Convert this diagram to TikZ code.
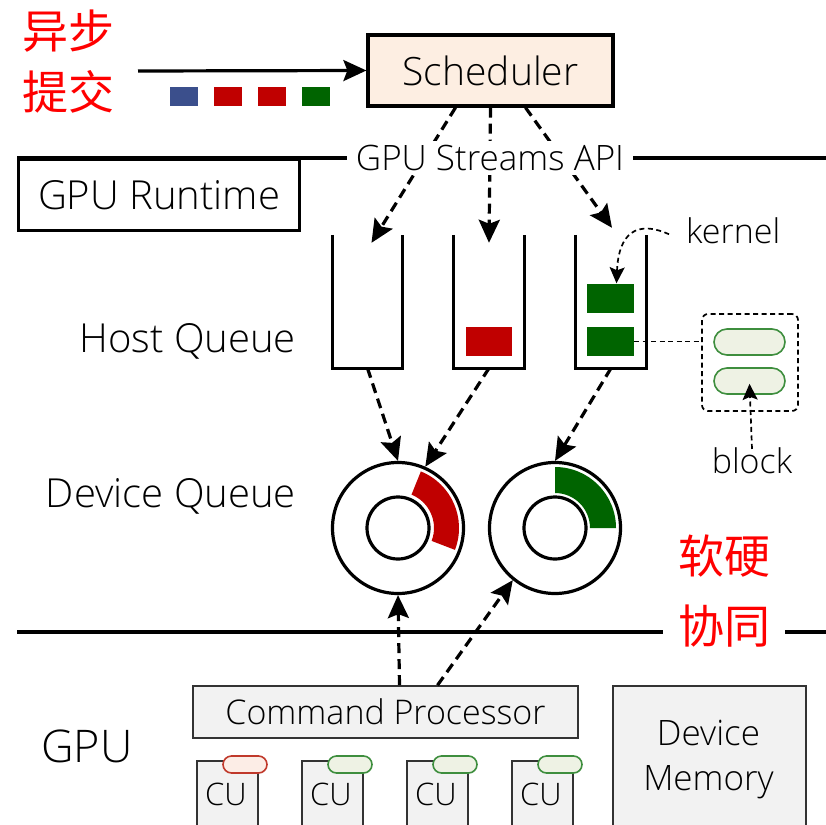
\documentclass[tikz,border=0pt]{standalone}
\usepackage{fontspec}
\setmainfont{Open Sans}[UprightFont={* Light}]
\newfontfamily\cjk{Noto Sans CJK SC}
\usetikzlibrary{arrows.meta}
\definecolor{qred}{HTML}{C00000}
\definecolor{qgreen}{HTML}{006400}
\definecolor{qblue}{HTML}{3B4F8C}
\definecolor{peach}{HTML}{FDEEE2}
\definecolor{boxgray}{HTML}{F2F2F2}
\definecolor{edgegray}{HTML}{333333}
\definecolor{pillgreen}{HTML}{EEF2E4}
\definecolor{pillgreenline}{HTML}{3E8E3E}
\definecolor{pillred}{HTML}{FCEDE6}
\definecolor{pillredline}{HTML}{C0392B}
\newcommand\fsz[1]{\fontsize{#1}{#1}\selectfont}
\begin{document}
\begin{tikzpicture}[x=1pt,y=-1pt,
  heavy/.style={line width=3.2},
  bigtip/.style={-{Stealth[length=23pt,width=21pt,inset=4pt]}},
  darrow/.style={heavy,dash pattern=on 10pt off 6pt,bigtip},
  thindash/.style={line width=1.7,dash pattern=on 5pt off 3.5pt},
  thinarrow/.style={thindash,-{Stealth[length=16pt,width=15pt,inset=3pt]}},
  label/.style={inner sep=0pt,text=black},
  redtxt/.style={inner sep=0pt,text=red,font=\cjk\fsz{46}},
  task/.style={minimum width=28,minimum height=19,inner sep=0pt},
  kern/.style={fill=qgreen,minimum width=47,minimum height=29,inner sep=0pt},
  graybox/.style={draw=edgegray,fill=boxgray,line width=1.6,inner sep=0pt},
  pill/.style={draw=pillgreenline,fill=pillgreen,line width=1.6,inner sep=0pt},
  queue/.style={minimum width=70,minimum height=133,inner sep=0pt},
  ring/.style={circle,draw,heavy,inner sep=0pt},
]
\useasboundingbox (0,0) rectangle (826,824);

% asynchronous submission
\node[redtxt,anchor=north west] (asyncA) at (22,10) {异步};
\node[redtxt,anchor=north west] (asyncB) at (22,70) {提交};

% scheduler
\node[draw,heavy,fill=peach,minimum width=245,minimum height=71,inner sep=0pt,
      font=\fsz{39}] (sched) at (490.5,70.5) {Scheduler};
\coordinate (feed) at (138,71);
\draw[heavy,bigtip] (feed) -- (sched.west);

\node[task,fill=qblue]  (t1) at (184,96.5) {};
\node[task,fill=qred]   (t2) at (227.5,96.5) {};
\node[task,fill=qred]   (t3) at (271.5,96.5) {};
\node[task,fill=qgreen] (t4) at (315.5,96.5) {};

% runtime layer
\coordinate (rtL) at (17,158);
\coordinate (rtR) at (826,158);
\draw[heavy] (rtL) -- (rtR);
\node[draw,heavy,fill=white,minimum width=281,minimum height=71,inner sep=0pt,
      font=\fsz{40},anchor=north west] (runtime) at (17,158) {GPU Runtime};

% host queues
\node[queue] (q1) at (367.5,301.5) {};
\node[queue] (q2) at (489,301.5) {};
\node[queue] (q3) at (611,301.5) {};
\foreach \q in {q1,q2,q3}
  \draw[heavy] (\q.north west) -- (\q.south west) -- (\q.south east) -- (\q.north east);

\node[fill=qred,minimum width=46,minimum height=29,inner sep=0pt] (r1) at (489,341.5) {};
\node[kern] (k1) at (610.5,298) {};
\node[kern] (k2) at (610.5,341.5) {};

% stream submissions
\draw[darrow] ([xshift=-35pt]sched.south) -- ([xshift=4pt,yshift=-8pt]q1.north);
\draw[darrow] (sched.south) -- ([yshift=-8pt]q2.north);
\draw[darrow] ([xshift=35pt]sched.south) -- ([xshift=1pt,yshift=7pt]q3.north);
\node[label,fill=white,inner xsep=9pt,inner ysep=4pt,font=\fsz{35}] (api) at (490,158) {GPU Streams API};

\node[label,anchor=base east,font=\fsz{40}] (hostq) at (296,352) {Host Queue};

% kernel annotation
\node[label,anchor=base west,font=\fsz{34}] (kernel) at (686,243) {kernel};
\draw[thinarrow] ([xshift=-17pt,yshift=-4pt]kernel.west) .. controls (628,216) and (618,245) .. ([xshift=6pt]k1.north);

% block detail
\node[draw,thindash,rounded corners=6pt,minimum width=96,minimum height=97,inner sep=0pt] (blkbox) at (750,362.5) {};
\node[pill,rounded corners=13pt,minimum width=71,minimum height=26] (p1) at (749.5,342) {};
\node[pill,rounded corners=13pt,minimum width=71,minimum height=26] (p2) at (749.5,381) {};
\draw[thindash] (k2.east) -- (blkbox.west |- k2.east);
\node[label,anchor=base,font=\fsz{34}] (block) at (752,473) {block};
\draw[thinarrow] ([yshift=-2pt]block.north) -- ([yshift=11pt]p2.south);

% device queues
\node[label,anchor=base east,font=\fsz{40}] (devq) at (296,507) {Device Queue};
\node[ring,minimum size=131] (c1) at (398,528) {};
\node[ring,minimum size=62] (c1i) at (c1) {};
\node[ring,minimum size=131] (c2) at (555,528) {};
\node[ring,minimum size=62] (c2i) at (c2) {};
\begin{scope}[shift={(c1.center)},x=1pt,y=1pt]
  \fill[qred] (-21:61) arc[start angle=-21,end angle=68,radius=61]
    -- (68:36) arc[start angle=68,end angle=-21,radius=36] -- cycle;
\end{scope}
\begin{scope}[shift={(c2.center)},x=1pt,y=1pt]
  \fill[qgreen] (0:61) arc[start angle=0,end angle=90,radius=61]
    -- (90:35) arc[start angle=90,end angle=0,radius=35] -- cycle;
\end{scope}

\draw[darrow] (q1.south) -- (c1.north);
\draw[darrow] (q2.south) -- (c1.66);
\draw[darrow] (q3.south) -- (c2.north);

% hardware boundary
\coordinate (hwL) at (17,632);
\coordinate (hwR) at (826,632);
\draw[heavy] (hwL) -- (hwR);
\node[redtxt,anchor=north west] (coopA) at (678,535) {软硬};
\node[redtxt,fill=white,inner xsep=15pt,inner ysep=0pt] (coopB) at (724,626) {协同};

% GPU
\node[label,anchor=base west,font=\fsz{45}] (gpu) at (41,762) {GPU};
\node[graybox,minimum width=385,minimum height=52,font=\fsz{34}] (cp) at (385.5,712) {Command Processor};
\draw[darrow] ([xshift=14pt]cp.north) -- (c1.south);
\draw[darrow] ([xshift=52pt]cp.north) -- (c2.231);

\node[graybox,minimum width=193,minimum height=150,anchor=north west] (mem) at (612,685) {};
\node[label,anchor=base,font=\fsz{35}] (memA) at (708.5,745) {Device};
\node[label,anchor=base,font=\fsz{35}] (memB) at (708.5,790) {Memory};

\foreach \i/\x in {1/196,2/301,3/406,4/511}{
  \node[graybox,minimum width=61,minimum height=80,anchor=north west] (cu\i) at (\x,760) {};
  \node[label,anchor=base,font=\fsz{31}] (cut\i) at (\x+30,805) {CU};
}
\node[pill,rounded corners=8.5pt,draw=pillredline,fill=pillred,minimum width=44,minimum height=17] (cp1) at (245,764.5) {};
\node[pill,rounded corners=8.5pt,minimum width=44,minimum height=17] (cp2) at (350,764.5) {};
\node[pill,rounded corners=8.5pt,minimum width=44,minimum height=17] (cp3) at (455,764.5) {};
\node[pill,rounded corners=8.5pt,minimum width=44,minimum height=17] (cp4) at (560,764.5) {};
\end{tikzpicture}
\end{document}
